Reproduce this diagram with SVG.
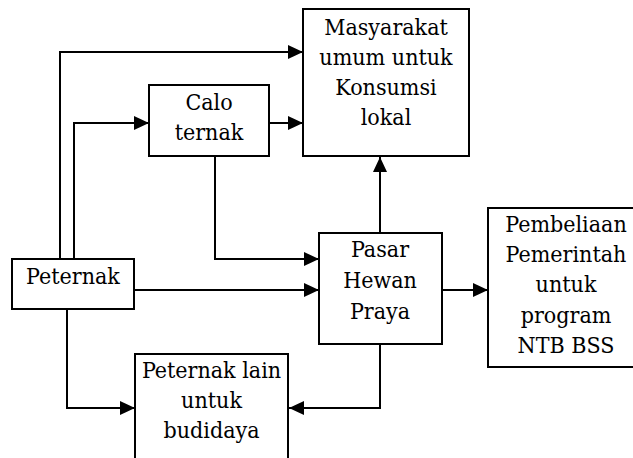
<svg xmlns="http://www.w3.org/2000/svg" width="633" height="458" viewBox="0 0 633 458">
<defs>
<marker id="arr" viewBox="0 0 15 14" refX="15" refY="7" markerWidth="15" markerHeight="14" markerUnits="userSpaceOnUse" orient="auto">
<path d="M0,0 L15,7 L0,14 z" fill="#000"/>
</marker>
<style>
.box{fill:#fff;stroke:#000;stroke-width:2}
.t{font-family:'DejaVu Serif Condensed','DejaVu Serif',serif;font-stretch:condensed;font-size:23px;fill:#000;text-anchor:middle}
.c{fill:none;stroke:#000;stroke-width:2;marker-end:url(#arr)}
</style>
</defs>
<rect width="633" height="458" fill="#fff"/>
<g id="connectors">
<path class="c" d="M60,259 V52 H303"/>
<path class="c" d="M74,259 V123 H149"/>
<path class="c" d="M269,123 H303"/>
<path class="c" d="M215,156 V259 H319"/>
<path class="c" d="M134,290 H319"/>
<path class="c" d="M380,233 V157"/>
<path class="c" d="M442,290 H488"/>
<path class="c" d="M380,344 V408 H289"/>
<path class="c" d="M67,309 V408 H135"/>
</g>
<g id="masyarakat">
<rect class="box" x="303" y="9" width="166" height="147"/>
<text class="t" x="386" y="35">Masyarakat</text>
<text class="t" x="386" y="65">umum untuk</text>
<text class="t" x="386" y="95">Konsumsi</text>
<text class="t" x="386" y="125">lokal</text>
</g>
<g id="calo">
<rect class="box" x="149" y="85" width="120" height="71"/>
<text class="t" x="209" y="110">Calo</text>
<text class="t" x="209" y="140">ternak</text>
</g>
<g id="peternak">
<rect class="box" x="12" y="259" width="122" height="50"/>
<text class="t" x="73" y="284">Peternak</text>
</g>
<g id="pasar">
<rect class="box" x="319" y="233" width="123" height="111"/>
<text class="t" x="380" y="257">Pasar</text>
<text class="t" x="380" y="288">Hewan</text>
<text class="t" x="380" y="319">Praya</text>
</g>
<g id="pembeliaan">
<rect class="box" x="488" y="208" width="160" height="159"/>
<text class="t" x="566" y="232">Pembeliaan</text>
<text class="t" x="566" y="262">Pemerintah</text>
<text class="t" x="566" y="292">untuk</text>
<text class="t" x="566" y="323">program</text>
<text class="t" x="566" y="353">NTB BSS</text>
</g>
<g id="peternak-lain">
<rect class="box" x="135" y="354" width="153" height="120"/>
<text class="t" x="211.5" y="378">Peternak lain</text>
<text class="t" x="211.5" y="408">untuk</text>
<text class="t" x="211.5" y="438">budidaya</text>
</g>
</svg>
